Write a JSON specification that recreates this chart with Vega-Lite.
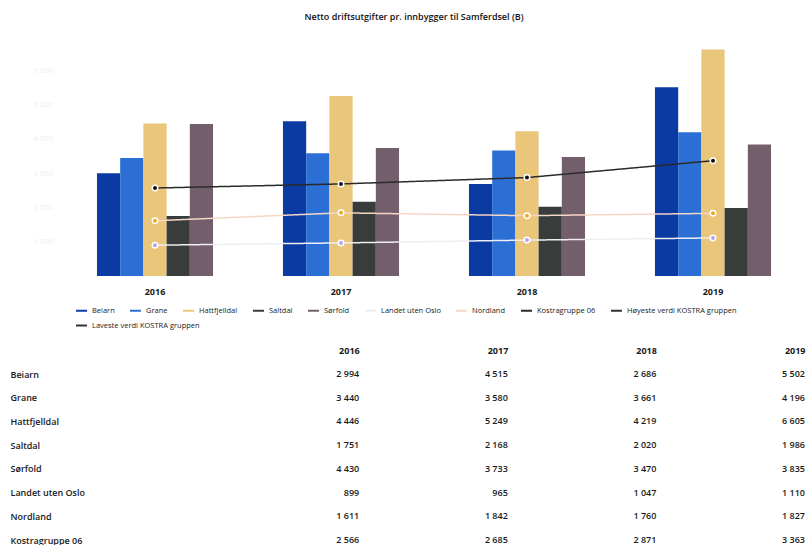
{
  "$schema": "https://vega.github.io/schema/vega-lite/v6.json",
  "background": "white",
  "padding": {"left": 0, "top": 13, "right": 0, "bottom": 0},
  "spacing": 50,
  "config": {
    "locale": {"number": {"decimal": ",", "thousands": " ", "grouping": [3], "currency": ["", " kr"]}},
    "view": {"stroke": null},
    "font": "Open Sans",
    "axis": {"grid": false, "domain": false, "ticks": false, "tickSize": 0}
  },
  "datasets": {
    "kostra": [
      {"serie": "Beiarn", "aar": "2016", "verdi": 2994},
      {"serie": "Beiarn", "aar": "2017", "verdi": 4515},
      {"serie": "Beiarn", "aar": "2018", "verdi": 2686},
      {"serie": "Beiarn", "aar": "2019", "verdi": 5502},
      {"serie": "Grane", "aar": "2016", "verdi": 3440},
      {"serie": "Grane", "aar": "2017", "verdi": 3580},
      {"serie": "Grane", "aar": "2018", "verdi": 3661},
      {"serie": "Grane", "aar": "2019", "verdi": 4196},
      {"serie": "Hattfjelldal", "aar": "2016", "verdi": 4446},
      {"serie": "Hattfjelldal", "aar": "2017", "verdi": 5249},
      {"serie": "Hattfjelldal", "aar": "2018", "verdi": 4219},
      {"serie": "Hattfjelldal", "aar": "2019", "verdi": 6605},
      {"serie": "Saltdal", "aar": "2016", "verdi": 1751},
      {"serie": "Saltdal", "aar": "2017", "verdi": 2168},
      {"serie": "Saltdal", "aar": "2018", "verdi": 2020},
      {"serie": "Saltdal", "aar": "2019", "verdi": 1986},
      {"serie": "Sørfold", "aar": "2016", "verdi": 4430},
      {"serie": "Sørfold", "aar": "2017", "verdi": 3733},
      {"serie": "Sørfold", "aar": "2018", "verdi": 3470},
      {"serie": "Sørfold", "aar": "2019", "verdi": 3835},
      {"serie": "Landet uten Oslo", "aar": "2016", "verdi": 899},
      {"serie": "Landet uten Oslo", "aar": "2017", "verdi": 965},
      {"serie": "Landet uten Oslo", "aar": "2018", "verdi": 1047},
      {"serie": "Landet uten Oslo", "aar": "2019", "verdi": 1110},
      {"serie": "Nordland", "aar": "2016", "verdi": 1611},
      {"serie": "Nordland", "aar": "2017", "verdi": 1842},
      {"serie": "Nordland", "aar": "2018", "verdi": 1760},
      {"serie": "Nordland", "aar": "2019", "verdi": 1827},
      {"serie": "Kostragruppe 06", "aar": "2016", "verdi": 2566},
      {"serie": "Kostragruppe 06", "aar": "2017", "verdi": 2685},
      {"serie": "Kostragruppe 06", "aar": "2018", "verdi": 2871},
      {"serie": "Kostragruppe 06", "aar": "2019", "verdi": 3363}
    ]
  },
  "vconcat": [
    {
      "width": 744,
      "height": 240,
      "title": {"text": "Netto driftsutgifter pr. innbygger til Samferdsel (B)", "fontSize": 9, "fontWeight": 600, "color": "#111111", "anchor": "middle", "dx": -20, "offset": 14},
      "data": {"name": "kostra"},
      "layer": [
        {
          "transform": [{"filter": {"field": "serie", "oneOf": ["Beiarn", "Grane", "Hattfjelldal", "Saltdal", "Sørfold"]}}],
          "mark": {"type": "bar"},
          "encoding": {
            "x": {"field": "aar", "type": "nominal", "scale": {"paddingInner": 0.376, "paddingOuter": 0.188},
              "axis": {"title": null, "labelAngle": 0, "labelFontSize": 9, "labelFontWeight": 700, "labelColor": "#1a1a1a", "labelBaseline": "middle", "labelPadding": 15}},
            "xOffset": {"field": "serie", "type": "nominal", "scale": {"domain": ["Beiarn", "Grane", "Hattfjelldal", "Saltdal", "Sørfold"], "paddingInner": 0, "paddingOuter": 0}},
            "y": {"field": "verdi", "type": "quantitative", "scale": {"domain": [0, 7000]},
              "axis": {"title": null, "values": [1000, 2000, 3000, 4000, 5000, 6000], "format": ",d", "labelColor": "#f0f0f0", "labelFontSize": 8, "labelPadding": 9, "minExtent": 62, "maxExtent": 62}},
            "color": {"field": "serie", "type": "nominal",
              "scale": {
                "domain": ["Beiarn", "Grane", "Hattfjelldal", "Saltdal", "Sørfold", "Landet uten Oslo", "Nordland", "Kostragruppe 06", "Høyeste verdi KOSTRA gruppen"],
                "range": ["#0c3aa3", "#2b6fd4", "#eac67a", "#383c3b", "#735f6b", "#eeeef4", "#f6d6c4", "#2a2a2a", "#333333"]
              },
              "legend": {
                "title": null, "orient": "none", "legendX": 13, "legendY": 268, "direction": "horizontal",
                "symbolType": "stroke", "symbolSize": 120, "symbolStrokeWidth": 2, "labelFontSize": 7.5, "labelColor": "#222222", "labelOffset": 4, "columnPadding": 11,
                "labelLimit": 300,
                "encode": {"symbols": {"update": {"fill": {"value": "transparent"}, "stroke": {"signal": "datum.value === 'Landet uten Oslo' ? '#333333' : datum.value === 'Nordland' ? '#f5a623' : scale('color', datum.value)"}, "strokeWidth": {"value": 2}}}}
              }
            }
          }
        },
        {
          "transform": [{"filter": {"field": "serie", "oneOf": ["Landet uten Oslo", "Nordland", "Kostragruppe 06"]}}],
          "mark": {"type": "line", "strokeWidth": 1.5},
          "encoding": {
            "x": {"field": "aar", "type": "nominal"},
            "y": {"field": "verdi", "type": "quantitative"},
            "color": {"field": "serie", "type": "nominal"},
            "strokeDash": {"datum": "Laveste verdi KOSTRA gruppen", "type": "nominal",
              "scale": {"domain": ["Laveste verdi KOSTRA gruppen"], "range": [[1, 0]]},
              "legend": {"title": null, "orient": "none", "legendX": 13, "legendY": 283, "direction": "horizontal",
                "symbolType": "stroke", "symbolSize": 120, "symbolStrokeWidth": 2, "symbolStrokeColor": "#333333", "labelFontSize": 7.5, "labelColor": "#222222", "labelOffset": 4, "labelLimit": 300}}
          }
        },
        {
          "transform": [{"filter": {"field": "serie", "oneOf": ["Landet uten Oslo", "Nordland", "Kostragruppe 06"]}}],
          "mark": {"type": "point", "filled": true, "stroke": "white", "strokeWidth": 1.5, "opacity": 1},
          "encoding": {
            "x": {"field": "aar", "type": "nominal"},
            "y": {"field": "verdi", "type": "quantitative"},
            "fill": {"field": "serie", "type": "nominal", "scale": {"domain": ["Landet uten Oslo", "Nordland", "Kostragruppe 06"], "range": ["#b4a4ec", "#f5a623", "#111111"]}, "legend": null},
            "size": {"field": "serie", "type": "nominal", "scale": {"domain": ["Landet uten Oslo", "Nordland", "Kostragruppe 06"], "range": [30, 30, 55]}, "legend": null}
          }
        }
      ]
    },
    {
      "width": 743,
      "height": 166,
      "data": {"name": "kostra"},
      "mark": {"type": "text", "align": "right", "baseline": "middle", "fontSize": 9, "fontWeight": 600, "color": "#1a1a1a"},
      "encoding": {
        "x": {"field": "aar", "type": "nominal", "scale": {"type": "point", "padding": 1.479, "align": 1},
          "axis": {"orient": "top", "title": null, "labelAngle": 0, "labelAlign": "right", "labelBaseline": "middle", "labelPadding": 24, "labelFontSize": 9, "labelFontWeight": 700, "labelColor": "#1a1a1a"}},
        "y": {"field": "serie", "type": "nominal",
          "scale": {"type": "point", "padding": 0, "domain": ["Beiarn", "Grane", "Hattfjelldal", "Saltdal", "Sørfold", "Landet uten Oslo", "Nordland", "Kostragruppe 06"]},
          "axis": {"title": null, "labelAlign": "left", "labelBaseline": "middle", "labelPadding": 52, "labelFontSize": 9, "labelFontWeight": 600, "labelColor": "#1a1a1a", "minExtent": 62, "maxExtent": 62}},
        "text": {"field": "verdi", "type": "quantitative", "format": ",d"}
      }
    }
  ]
}
